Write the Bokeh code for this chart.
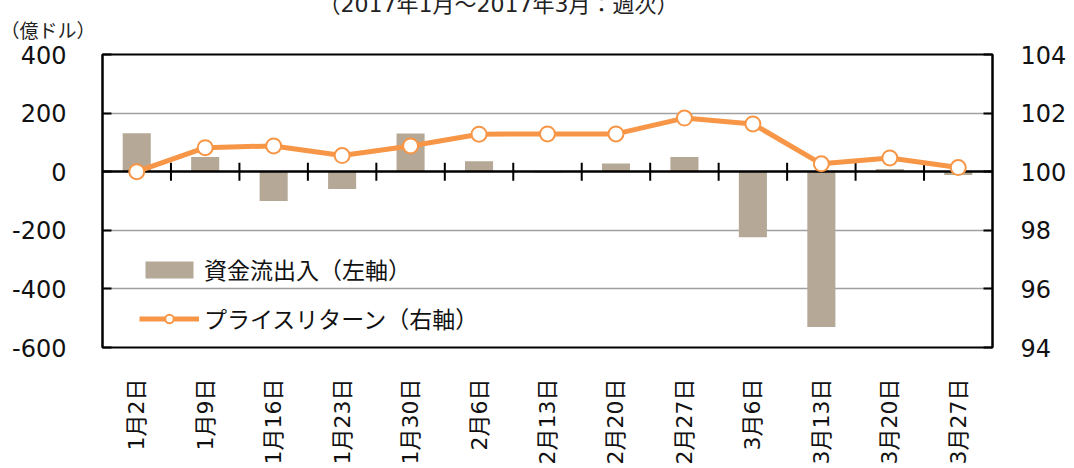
import numpy as np
from bokeh.plotting import figure
from bokeh.models import (FactorRange, Range1d, LinearAxis, Legend, LegendItem, FixedTicker, Title)
from bokeh.embed import file_html
from bokeh.resources import INLINE

categories = ["1月2日", "1月9日", "1月16日", "1月23日", "1月30日", "2月6日", "2月13日",
              "2月20日", "2月27日", "3月6日", "3月13日", "3月20日", "3月27日"]
flows = [131, 50, -100, -59, 130, 36, -3, 28, 50, -224, -530, 9, -11]
price_return = [100.0, 100.82, 100.88, 100.55, 100.88, 101.28, 101.29, 101.29,
                101.83, 101.63, 100.27, 100.47, 100.14]
left_ticks = [-600, -400, -200, 0, 200, 400]
right_ticks = [94, 96, 98, 100, 102, 104]
title_text = "（2017年1月～2017年3月：週次）"
unit_text = "（億ドル）"

NUM_FONT = "DejaVu Sans, Noto Sans CJK JP"
JP_FONT = "Noto Sans CJK JP"
BAR = "#B5A896"
ORANGE = "#F79646"
TXT = "#111111"

p = figure(x_range=FactorRange(*categories, range_padding=0),
           y_range=Range1d(left_ticks[0], left_ticks[-1]),
           width=1074, height=468, output_backend="svg", toolbar_location=None,
           min_border_left=102, min_border_right=82, min_border_top=54, min_border_bottom=121)
p.extra_y_ranges = {"right": Range1d(right_ticks[0], right_ticks[-1])}

p.outline_line_color = "black"
p.outline_line_width = 2
p.background_fill_color = "white"

# chart subtitle (outer title band, partly above the canvas like the original)
p.title.text = title_text
p.title.align = "left"
p.title.offset = 216
p.title.vertical_align = "bottom"
p.title.standoff = -23
p.title.text_font = NUM_FONT
p.title.text_font_size = "22px"
p.title.text_font_style = "normal"
p.title.text_color = "#222222"

# unit text, nearest the frame, pulled left over the axis labels
p.add_layout(Title(text=unit_text, align="left", offset=-102, vertical_align="top",
                   standoff=20, text_font=JP_FONT, text_font_size="19px",
                   text_font_style="normal", text_color="#222222"), "above")

p.xgrid.visible = False
p.ygrid.ticker = FixedTicker(ticks=[-400, -200, 200])
p.ygrid.grid_line_color = "#A0A0A0"
p.ygrid.grid_line_width = 1.5

# left axis
ya = p.yaxis[0]
ya.ticker = FixedTicker(ticks=left_ticks)
ya.major_label_overrides = {t: str(t) for t in left_ticks}
ya.axis_line_color = "black"
ya.axis_line_width = 2
ya.major_tick_in = 9
ya.major_tick_out = 0
ya.major_tick_line_width = 2
ya.minor_tick_line_color = None
ya.major_label_standoff = 36
ya.major_label_text_font = NUM_FONT
ya.major_label_text_font_size = "24px"
ya.major_label_text_color = TXT

# right axis
ra = LinearAxis(y_range_name="right", ticker=FixedTicker(ticks=right_ticks))
ra.major_label_overrides = {t: str(t) for t in right_ticks}
ra.axis_line_color = "black"
ra.axis_line_width = 2
ra.major_tick_in = 9
ra.major_tick_out = 0
ra.major_tick_line_width = 2
ra.minor_tick_line_color = None
ra.major_label_standoff = 28
ra.major_label_text_font = NUM_FONT
ra.major_label_text_font_size = "24px"
ra.major_label_text_color = TXT
p.add_layout(ra, "right")

# bottom category axis
xa = p.xaxis[0]
xa.axis_line_color = None
xa.major_tick_line_color = None
xa.minor_tick_line_color = None
xa.major_label_orientation = np.pi / 2
xa.major_label_standoff = 25
xa.major_label_text_font = NUM_FONT
xa.major_label_text_font_size = "22px"
xa.major_label_text_color = TXT

bars = p.vbar(x=categories, top=flows, bottom=0, width=0.41, fill_color=BAR, line_color=None)

p.hspan(y=[0], line_color="black", line_width=2.5)
boundaries = list(range(1, len(categories)))
p.scatter(x=boundaries, y=[0] * len(boundaries), marker="dash", size=18, angle=np.pi / 2,
          line_color="black", line_width=2)

line_r = p.line(x=categories, y=price_return, y_range_name="right", line_color=ORANGE, line_width=5)
mark_r = p.scatter(x=categories, y=price_return, y_range_name="right", size=15,
                   fill_color="white", line_color=ORANGE, line_width=2)

legend = Legend(items=[LegendItem(label="資金流出入（左軸）", renderers=[bars]),
                       LegendItem(label="プライスリターン（右軸）", renderers=[line_r, mark_r])],
                location=(37, 12), orientation="vertical",
                background_fill_alpha=0, border_line_color=None,
                padding=0, margin=0, spacing=15,
                glyph_width=60, glyph_height=21, label_height=30, label_standoff=5,
                label_text_font=JP_FONT, label_text_font_size="23px", label_text_color=TXT)
p.add_layout(legend, "center")

open("out.html", "w").write(file_html(p, INLINE))
